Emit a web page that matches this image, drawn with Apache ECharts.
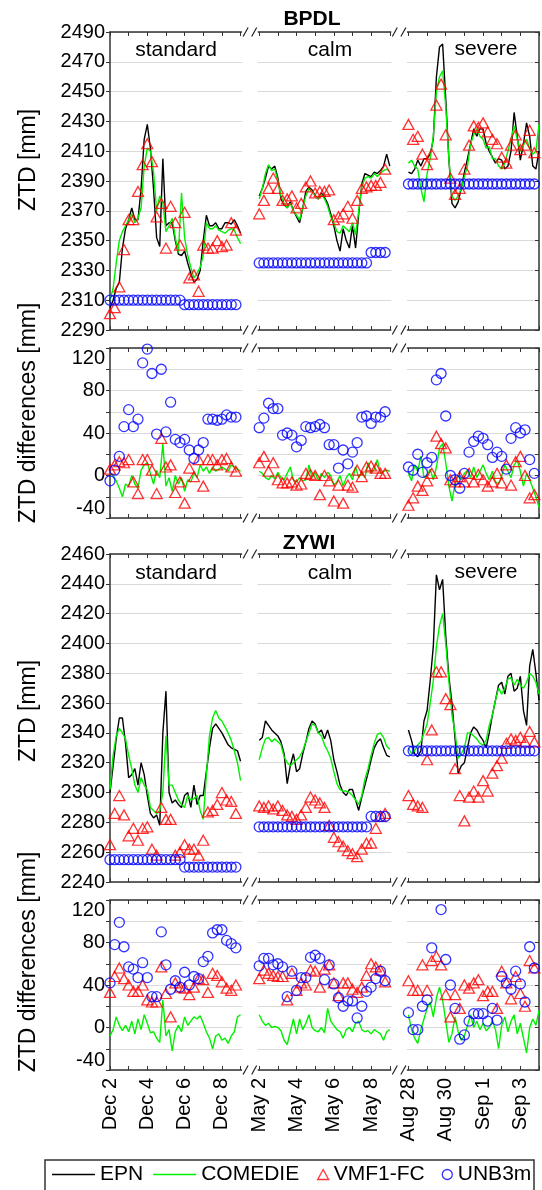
<!DOCTYPE html>
<html><head><meta charset="utf-8">
<script src="https://cdn.jsdelivr.net/npm/echarts@6/dist/echarts.min.js"></script>
<style>html,body{margin:0;padding:0;background:#fff}#c{width:542px;height:1190px}</style>
</head><body><div id="c"></div>
<script>
// ---------- x axis (days from start of each 7-day window, windows placed side by side with 1-day gaps) ----------
const segOffsets = [0, 8, 16];           // standard, calm, severe
const segNames = ['standard', 'calm', 'severe'];
const tickDays = [0, 2, 4, 6, 8, 10, 12, 14, 16, 18, 20, 22];
const tickLabels = ['Dec 2', 'Dec 4', 'Dec 6', 'Dec 8', 'May 2', 'May 4', 'May 6', 'May 8', 'Aug 28', 'Aug 30', 'Sep 1', 'Sep 3'];

// ---------- BPDL ZTD [mm] (lines every 4 h, markers every 6 h) ----------
const bpdlEpnStd = [2305,2310,2318,2322,2345,2358,2364,2372,2364,2364,2385,2418,2428,2412,2385,2352,2346,2405,2360,2362,2362,2350,2341,2340,2343,2335,2328,2322,2324,2330,2350,2367,2360,2360,2362,2358,2358,2362,2362,2361,2364,2360,2355];
const bpdlEpnCalm = [2380,2385,2392,2400,2398,2400,2392,2378,2374,2372,2376,2370,2366,2362,2372,2383,2386,2384,2380,2378,2382,2379,2375,2368,2360,2350,2343,2358,2350,2345,2360,2345,2368,2388,2395,2394,2393,2396,2395,2397,2400,2408,2400];
const bpdlEpnSev = [2396,2395,2398,2404,2400,2405,2405,2408,2418,2460,2480,2482,2445,2405,2375,2372,2376,2385,2396,2405,2415,2425,2420,2425,2425,2415,2410,2406,2402,2405,2404,2398,2400,2410,2436,2420,2404,2415,2429,2420,2400,2398,2410];
const bpdlComStd = [2310,2318,2335,2350,2356,2360,2364,2368,2362,2365,2372,2400,2412,2410,2396,2370,2380,2375,2356,2360,2365,2352,2342,2382,2352,2340,2332,2325,2328,2332,2340,2362,2358,2358,2360,2357,2356,2355,2357,2358,2357,2352,2348];
const bpdlComCalm = [2378,2385,2395,2401,2397,2398,2390,2380,2375,2372,2375,2370,2367,2364,2372,2380,2385,2383,2380,2378,2381,2378,2373,2366,2362,2356,2355,2360,2358,2356,2362,2354,2370,2386,2392,2393,2392,2395,2393,2395,2397,2398,2396];
const bpdlComSev = [2402,2404,2400,2398,2385,2376,2395,2405,2420,2450,2460,2464,2440,2405,2380,2377,2380,2385,2393,2400,2415,2421,2425,2420,2418,2412,2413,2405,2405,2400,2398,2402,2410,2418,2427,2418,2410,2414,2418,2412,2408,2410,2428];
const bpdlVmfStd = [2301,2305,2319,2344,2364,2364,2383,2401,2415,2403,2366,2375,2345,2373,2362,2347,2369,2325,2327,2316,2347,2345,2345,2350,2346,2347,2362,2357];
const bpdlVmfCalm = [2368,2377,2385,2392,2385,2377,2378,2380,2372,2375,2386,2390,2382,2383,2383,2384,2364,2366,2368,2373,2365,2377,2385,2386,2387,2387,2389,2398];
const bpdlVmfSev = [2428,2418,2420,2408,2401,2408,2441,2455,2421,2392,2381,2385,2398,2414,2427,2426,2429,2423,2418,2415,2406,2402,2414,2421,2411,2414,2424,2409];
const bpdlUnbStd = [2310,2310,2310,2310,2310,2310,2310,2310,2310,2310,2310,2310,2310,2310,2310,2310,2307,2307,2307,2307,2307,2307,2307,2307,2307,2307,2307,2307];
const bpdlUnbCalm = [2335,2335,2335,2335,2335,2335,2335,2335,2335,2335,2335,2335,2335,2335,2335,2335,2335,2335,2335,2335,2335,2335,2335,2335,2342,2342,2342,2342];
const bpdlUnbSev = [2388,2388,2388,2388,2388,2388,2388,2388,2388,2388,2388,2388,2388,2388,2388,2388,2388,2388,2388,2388,2388,2388,2388,2388,2388,2388,2388,2388];

// ---------- BPDL ZTD differences [mm] ----------
const bpdlDComStd = [2,0,-5,-12,-20,-8,-10,0,-8,-12,5,10,12,2,-8,5,-2,30,-10,-2,-15,0,-8,-2,-15,-4,-6,2,-2,10,4,8,2,8,4,6,8,6,4,10,8,6,4];
const bpdlDComCalm = [4,2,-2,-4,0,-3,3,-2,-4,2,8,-4,-6,-2,-5,-4,10,-2,3,-5,2,-2,3,0,-9,-6,0,-10,-2,2,-4,8,-2,3,-2,12,2,6,15,2,4,5,4];
const bpdlDComSev = [2,-5,10,4,18,-2,0,6,-4,8,26,30,12,-10,-24,-8,0,-4,2,5,-2,8,-2,4,10,2,-4,4,-6,-8,0,10,4,-2,10,14,4,-10,2,-4,-12,-20,-30];
const bpdlDVmfStd = [6,10,13,12,15,-6,-17,15,15,5,-17,35,8,10,-16,-6,-26,7,-1,15,-10,15,15,10,15,16,8,4];
const bpdlDVmfCalm = [12,18,4,12,-4,-7,-7,-6,-9,-8,2,1,0,-18,0,-5,-24,-9,-26,-9,-11,5,-1,8,9,7,2,2];
const bpdlDVmfSev = [-28,-21,-10,-14,-5,2,37,30,26,-4,-6,-1,-6,2,-6,1,-4,-10,-6,2,-7,10,-9,13,18,0,-21,-18];
const bpdlDUnbStd = [-5,5,18,46,62,46,53,106,119,96,39,100,41,69,34,31,34,24,16,24,31,53,53,52,53,57,55,55];
const bpdlDUnbCalm = [45,54,68,63,63,38,40,38,27,33,46,45,46,48,45,29,29,7,24,11,22,31,55,56,49,55,55,60];
const bpdlDUnbSev = [8,5,20,3,12,17,90,96,56,0,-4,-12,2,22,32,37,35,29,17,22,18,6,35,45,40,43,15,2];

// ---------- ZYWI ZTD [mm] ----------
const zywiEpnStd = [2300,2318,2336,2350,2350,2333,2310,2312,2316,2305,2320,2312,2298,2286,2283,2285,2278,2340,2368,2300,2293,2295,2292,2290,2298,2300,2290,2305,2292,2298,2298,2314,2330,2343,2346,2343,2340,2336,2332,2330,2329,2328,2321];
const zywiEpnCalm = [2335,2337,2348,2345,2342,2340,2338,2334,2326,2306,2318,2326,2314,2316,2326,2334,2343,2348,2346,2340,2342,2336,2342,2335,2322,2314,2305,2300,2298,2302,2302,2295,2288,2297,2305,2313,2322,2330,2334,2336,2330,2325,2324];
const zywiEpnSev = [2342,2335,2326,2324,2328,2348,2355,2375,2398,2446,2436,2443,2405,2378,2360,2336,2313,2318,2320,2330,2340,2344,2342,2338,2335,2330,2340,2352,2362,2372,2374,2366,2378,2380,2368,2370,2378,2355,2345,2385,2396,2380,2362];
const zywiComStd = [2302,2325,2338,2343,2340,2336,2325,2316,2305,2300,2310,2305,2302,2290,2288,2286,2288,2300,2338,2305,2305,2300,2295,2292,2290,2298,2295,2296,2298,2288,2282,2312,2338,2350,2355,2350,2348,2344,2340,2335,2328,2320,2308];
const zywiComCalm = [2322,2330,2336,2337,2334,2336,2334,2332,2324,2320,2318,2320,2322,2324,2328,2334,2340,2346,2345,2340,2338,2332,2328,2323,2314,2306,2302,2301,2301,2300,2298,2295,2292,2298,2309,2316,2325,2333,2339,2340,2337,2331,2329];
const zywiComSev = [2330,2326,2328,2332,2334,2340,2346,2360,2375,2398,2412,2420,2400,2375,2352,2340,2323,2326,2330,2340,2340,2338,2336,2333,2332,2335,2345,2352,2362,2370,2366,2370,2376,2377,2372,2376,2372,2370,2374,2380,2378,2374,2366];
const zywiVmfStd = [2265,2286,2298,2285,2271,2276,2268,2276,2277,2262,2258,2290,2282,2282,2258,2260,2265,2262,2262,2258,2268,2287,2288,2292,2300,2295,2294,2286];
const zywiVmfCalm = [2291,2290,2291,2289,2291,2288,2285,2284,2282,2285,2290,2297,2295,2293,2290,2278,2270,2267,2264,2261,2259,2257,2262,2266,2266,2276,2284,2286];
const zywiVmfSev = [2298,2292,2291,2290,2322,2342,2381,2381,2363,2359,2316,2298,2281,2297,2301,2297,2308,2301,2313,2318,2323,2333,2336,2335,2337,2334,2341,2334];
const zywiUnbStd = [2255,2255,2255,2255,2255,2255,2255,2255,2255,2255,2255,2255,2255,2255,2255,2255,2250,2250,2250,2250,2250,2250,2250,2250,2250,2250,2250,2250];
const zywiUnbCalm = [2277,2277,2277,2277,2277,2277,2277,2277,2277,2277,2277,2277,2277,2277,2277,2277,2277,2277,2277,2277,2277,2277,2277,2277,2284,2284,2284,2284];
const zywiUnbSev = [2328,2328,2328,2328,2328,2328,2328,2328,2328,2328,2328,2328,2328,2328,2328,2328,2328,2328,2328,2328,2328,2328,2328,2328,2328,2328,2328,2328];

// ---------- ZYWI ZTD differences [mm] ----------
const zywiDComStd = [-8,-2,10,2,-3,2,-4,6,-6,8,-2,12,4,-5,-4,-10,-14,26,-8,-2,-22,-4,2,-4,10,2,6,10,8,11,4,-4,-10,-20,-8,-6,-12,-10,-15,-8,-4,10,12];
const zywiDComCalm = [12,6,2,4,0,1,0,-3,-12,-16,-4,8,-6,8,-2,4,12,0,-3,-4,0,-5,18,6,2,-2,-4,-10,-2,0,-4,4,6,-2,-4,-3,-6,-2,-4,-6,-12,-4,-2];
const zywiDComSev = [12,-2,-10,-15,-2,8,18,24,10,28,38,26,6,-14,-6,10,-4,-12,-8,2,12,0,6,-2,4,-3,0,6,-2,-20,2,10,-4,6,12,-6,4,-10,-24,0,8,2,16];
const zywiDVmfStd = [33,48,56,46,40,34,34,40,26,24,24,57,32,10,42,38,37,31,38,46,45,33,51,49,43,37,35,40];
const zywiDVmfCalm = [46,54,51,49,48,48,26,51,35,42,40,54,53,38,55,59,42,30,42,42,36,33,38,49,60,57,54,43];
const zywiDVmfSev = [44,35,35,59,35,63,67,59,31,10,31,18,40,37,42,45,30,34,34,18,53,42,27,48,32,20,63,56];
const zywiDUnbStd = [42,78,99,76,57,55,47,61,47,29,29,90,59,36,44,38,52,40,48,46,62,67,89,92,92,82,79,75];
const zywiDUnbCalm = [58,65,65,59,60,57,29,53,35,47,47,66,68,65,45,59,41,28,20,25,25,9,20,34,38,46,53,44];
const zywiDUnbSev = [14,-2,-2,20,26,75,null,111,64,40,18,-11,-7,6,13,13,13,6,18,7,48,42,36,53,41,24,76,56];

// ---------- layout / style ----------
const FONT = 'Liberation Sans';
const AX = '#333';
const panels = [
  {top: 32,  height: 298, min: 2290, max: 2490, labelStep: 20, diff: false},
  {top: 348, height: 170, min: -40,  max: 120,  labelStep: 40, diff: true},
  {top: 554, height: 328, min: 2240, max: 2460, labelStep: 20, diff: false},
  {top: 900, height: 170, min: -40,  max: 120,  labelStep: 40, diff: true}
];

const grids = [], xAxes = [], yAxes = [], series = [];
panels.forEach((p, g) => {
  grids.push({left: 110, width: 429, top: p.top, height: p.height, outerBoundsMode: 'none'});
  const common = {type: 'value', gridIndex: g, min: 0, max: 23, interval: 1,
    axisLine: {show: true, onZero: false, lineStyle: {color: AX, width: 1.5}},
    axisTick: {show: true, inside: true, length: 4, lineStyle: {color: AX, width: 1}},
    splitLine: {show: false}};
  xAxes.push(Object.assign({}, common, {position: 'bottom',
    axisLabel: {show: g === 3, rotate: 90, fontSize: 20, color: '#000', fontFamily: FONT, margin: 8,
      formatter: v => { const k = tickDays.indexOf(v); return k >= 0 ? tickLabels[k] : ''; }}}));
  xAxes.push(Object.assign({}, common, {position: 'top', axisLabel: {show: false}}));
  const ycommon = {type: 'value', gridIndex: g, min: p.min, max: p.max, interval: 20,
    axisLine: {show: true, onZero: false, lineStyle: {color: AX, width: 1.5}}};
  yAxes.push(Object.assign({}, ycommon, {position: 'left',
    axisTick: {show: true, inside: false, length: 4, lineStyle: {color: AX}},
    axisLabel: {fontSize: 20, color: '#000', fontFamily: FONT, margin: 5,
      verticalAlignMaxLabel: p.diff ? 'top' : 'middle', verticalAlignMinLabel: p.diff ? 'bottom' : 'middle',
      formatter: v => (((v - p.min) % p.labelStep === 0) ? String(v) : '')},
    splitLine: {show: true, lineStyle: {color: '#d9d9d9', width: 1}}}));
  yAxes.push(Object.assign({}, ycommon, {position: 'right',
    axisTick: {show: true, inside: true, length: 4, lineStyle: {color: AX}},
    axisLabel: {show: false}, splitLine: {show: false}}));
  // axis breaks
  series.push({type: 'custom', xAxisIndex: 2 * g, yAxisIndex: 2 * g, z: 1, silent: true, clip: false,
    data: [[7, p.min], [15, p.min]],
    renderItem: (params, api) => {
      const cs = params.coordSys;
      const x = api.value(0);
      const xa = api.coord([x, p.min])[0], xb = api.coord([x + 1, p.min])[0];
      const top = cs.y, bot = cs.y + cs.height;
      const children = [{type: 'rect', shape: {x: xa + 1.5, y: top - 3, width: xb - xa - 3, height: bot - top + 6},
        style: {fill: '#fff'}}];
      [0.27, 0.73].forEach(f => {
        const sx = xa + (xb - xa) * f;
        [top, bot].forEach(sy => children.push({type: 'line',
          shape: {x1: sx - 2.5, y1: sy + 4.5, x2: sx + 2.5, y2: sy - 4.5},
          style: {stroke: '#222', lineWidth: 1.2}}));
      });
      return {type: 'group', children};
    }});
});

function addLine(name, arrs, g, color, z) {
  arrs.forEach((arr, k) => series.push({type: 'line', name, xAxisIndex: 2 * g, yAxisIndex: 2 * g,
    data: arr.map((v, i) => [segOffsets[k] + i / 6, v]), showSymbol: false, symbol: 'none',
    lineStyle: {color, width: 1.4}, itemStyle: {color}, z, silent: true, animation: false}));
}
function addMarks(name, arrs, g, symbol, size, color, z) {
  const data = [];
  arrs.forEach((arr, k) => arr.forEach((v, i) => { if (v !== null) data.push([segOffsets[k] + i / 4, v]); }));
  series.push({type: 'scatter', name, xAxisIndex: 2 * g, yAxisIndex: 2 * g, data, symbol, symbolSize: size,
    itemStyle: {color: 'rgba(0,0,0,0)', borderColor: color, borderWidth: 1.3}, z, silent: true});
}
const RED = '#ff0000', BLUE = '#0000ff', GREEN = '#00f000';
// BPDL
addLine('EPN', [bpdlEpnStd, bpdlEpnCalm, bpdlEpnSev], 0, '#000', 3);
addLine('COMEDIE', [bpdlComStd, bpdlComCalm, bpdlComSev], 0, GREEN, 4);
addMarks('VMF1-FC', [bpdlVmfStd, bpdlVmfCalm, bpdlVmfSev], 0, 'triangle', [11, 10], RED, 5);
addMarks('UNB3m', [bpdlUnbStd, bpdlUnbCalm, bpdlUnbSev], 0, 'circle', 10, BLUE, 6);
addLine('COMEDIE', [bpdlDComStd, bpdlDComCalm, bpdlDComSev], 1, GREEN, 4);
addMarks('VMF1-FC', [bpdlDVmfStd, bpdlDVmfCalm, bpdlDVmfSev], 1, 'triangle', [11, 10], RED, 5);
addMarks('UNB3m', [bpdlDUnbStd, bpdlDUnbCalm, bpdlDUnbSev], 1, 'circle', 10, BLUE, 6);
// ZYWI
addLine('EPN', [zywiEpnStd, zywiEpnCalm, zywiEpnSev], 2, '#000', 3);
addLine('COMEDIE', [zywiComStd, zywiComCalm, zywiComSev], 2, GREEN, 4);
addMarks('VMF1-FC', [zywiVmfStd, zywiVmfCalm, zywiVmfSev], 2, 'triangle', [11, 10], RED, 5);
addMarks('UNB3m', [zywiUnbStd, zywiUnbCalm, zywiUnbSev], 2, 'circle', 10, BLUE, 6);
addLine('COMEDIE', [zywiDComStd, zywiDComCalm, zywiDComSev], 3, GREEN, 4);
addMarks('VMF1-FC', [zywiDVmfStd, zywiDVmfCalm, zywiDVmfSev], 3, 'triangle', [11, 10], RED, 5);
addMarks('UNB3m', [zywiDUnbStd, zywiDUnbCalm, zywiDUnbSev], 3, 'circle', 10, BLUE, 6);

function txt(x, y, text, size, bold, rot) {
  return {type: 'text', x, y, rotation: rot || 0, z: 50,
    style: {text, fill: '#000', font: (bold ? 'bold ' : '') + size + 'px ' + FONT,
      align: 'center', verticalAlign: 'middle', textAlign: 'center', textVerticalAlign: 'middle'}};
}
const graphic = [
  txt(312, 19, 'BPDL', 21, true), txt(309, 543, 'ZYWI', 21, true),
  txt(176, 50, segNames[0], 21), txt(330, 50, segNames[1], 21), txt(486, 49, segNames[2], 21),
  txt(176, 573, segNames[0], 21), txt(330, 573, segNames[1], 21), txt(486, 572, segNames[2], 21),
  txt(29, 160, 'ZTD [mm]', 23, false, Math.PI / 2),
  txt(29, 413, 'ZTD differences [mm]', 23, false, Math.PI / 2),
  txt(29, 711, 'ZTD [mm]', 23, false, Math.PI / 2),
  txt(29, 962, 'ZTD differences [mm]', 23, false, Math.PI / 2),
  {type: 'rect', shape: {x: 45, y: 1160, width: 489, height: 40}, style: {fill: 'none', stroke: '#333', lineWidth: 1.5}, z: 40}
];

const chart = echarts.init(document.getElementById('c'), null, {renderer: 'canvas'});
chart.setOption({
  animation: false,
  textStyle: {fontFamily: FONT},
  grid: grids, xAxis: xAxes, yAxis: yAxes, series, graphic,
  legend: [
    {data: [{name: 'EPN', icon: 'rect', itemStyle: {color: '#000'}},
            {name: 'COMEDIE', icon: 'rect', itemStyle: {color: GREEN}}],
      left: 52, top: 1164, padding: 0, itemWidth: 43, itemHeight: 1.6,
      itemGap: 10, selectedMode: false, textStyle: {fontSize: 21, color: '#000', fontFamily: FONT}},
    {data: [{name: 'VMF1-FC', icon: 'triangle', itemStyle: {color: 'rgba(0,0,0,0)', borderColor: RED, borderWidth: 1.3}},
            {name: 'UNB3m', icon: 'circle', itemStyle: {color: 'rgba(0,0,0,0)', borderColor: BLUE, borderWidth: 1.3}}],
      left: 317, top: 1164, padding: 0, itemWidth: 11, itemHeight: 10, itemGap: 17, selectedMode: false,
      textStyle: {fontSize: 21, color: '#000', fontFamily: FONT}}
  ]
});
</script></body></html>
